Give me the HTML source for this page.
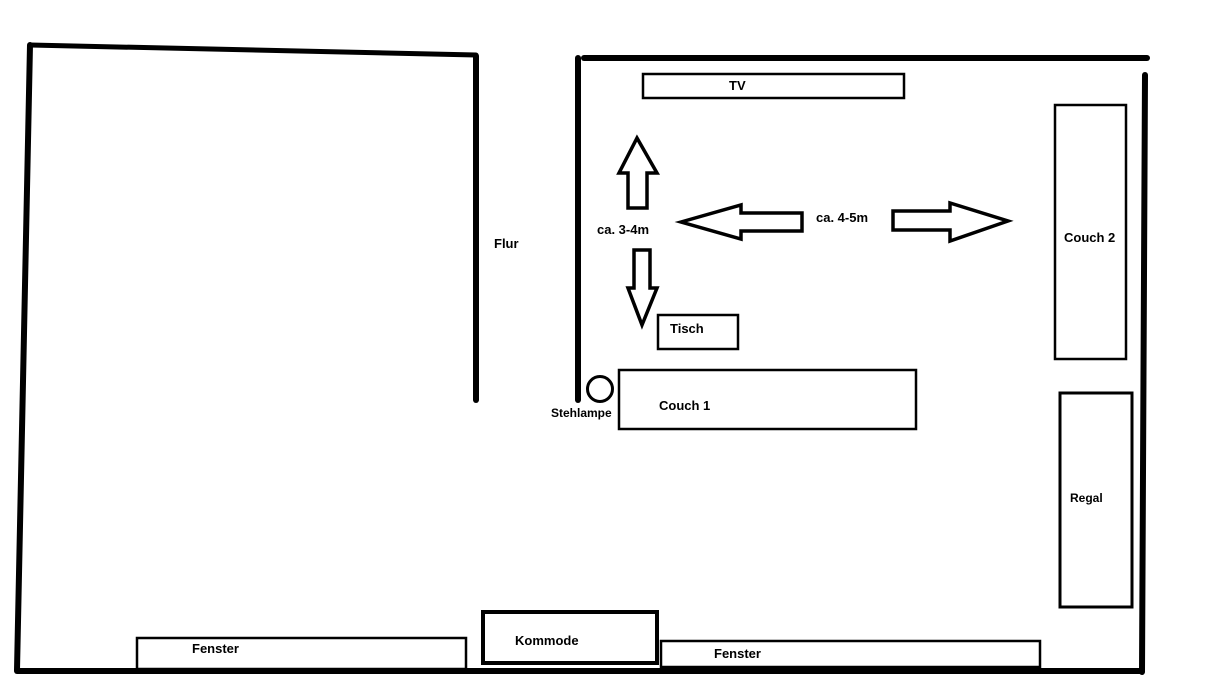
<!DOCTYPE html>
<html><head><meta charset="utf-8"><style>
html,body{margin:0;padding:0;background:#fff;}
svg{display:block;}
text{font-family:"Liberation Sans",sans-serif;font-weight:bold;font-size:13px;fill:#000;}
</style></head><body>
<svg width="1216" height="685" viewBox="0 0 1216 685" xmlns="http://www.w3.org/2000/svg">
<g stroke="#000" stroke-linecap="round" fill="none">
<line x1="30" y1="45" x2="17" y2="670" stroke-width="6"/>
<line x1="30" y1="45" x2="476" y2="55" stroke-width="5"/>
<line x1="476" y1="56" x2="476" y2="400" stroke-width="6"/>
<line x1="578" y1="58" x2="578" y2="400" stroke-width="6"/>
<line x1="584" y1="58" x2="1147" y2="58" stroke-width="6"/>
<line x1="1145" y1="75" x2="1142" y2="672" stroke-width="6"/>
<line x1="17" y1="671" x2="1140" y2="671" stroke-width="6"/>
</g>
<g stroke="#000" fill="none" stroke-width="2.5">
<rect x="643" y="74" width="261" height="24"/>
<rect x="1055" y="105" width="71" height="254"/>
<rect x="1060" y="393" width="72" height="214" stroke-width="3"/>
<rect x="658" y="315" width="80" height="34"/>
<rect x="619" y="370" width="297" height="59"/>
<circle cx="600" cy="389" r="12.5" stroke-width="3"/>
<rect x="137" y="638" width="329" height="31"/>
<rect x="483" y="612" width="174" height="51" stroke-width="4"/>
<rect x="661" y="641" width="379" height="26"/>
<polygon stroke-width="3.5" points="637,138 657,173 647,173 647,208 628,208 628,173 619,173"/>
<polygon stroke-width="3.5" points="634,250 650,250 650,288 657,288 642,325 628,288 634,288"/>
<polygon stroke-width="3.5" points="681,222 741,205 741,213 802,213 802,231 741,231 741,239"/>
<polygon stroke-width="3.5" points="1008,221 950,241 950,230 893,230 893,211 950,211 950,203"/>
</g>
<text x="729" y="90">TV</text>
<text x="494" y="248">Flur</text>
<text x="597" y="234">ca. 3-4m</text>
<text x="816" y="222">ca. 4-5m</text>
<text x="1064" y="242">Couch 2</text>
<text x="670" y="333">Tisch</text>
<text x="659" y="410">Couch 1</text>
<text x="551" y="417" style="font-size:12px">Stehlampe</text>
<text x="1070" y="502" style="font-size:12px">Regal</text>
<text x="192" y="653">Fenster</text>
<text x="515" y="645">Kommode</text>
<text x="714" y="658">Fenster</text>
</svg>
</body></html>
